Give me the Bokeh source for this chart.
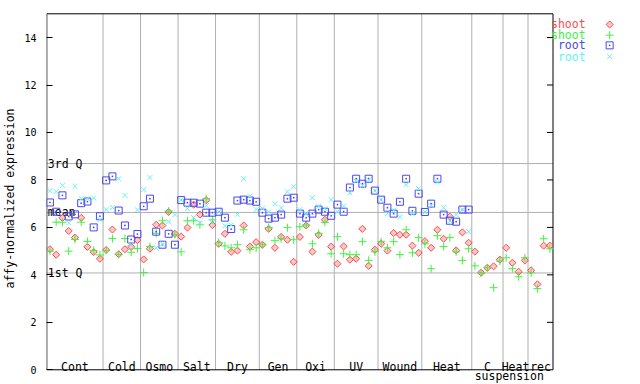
import numpy as np
from bokeh.plotting import figure
from bokeh.models import Range1d, FixedTicker
from bokeh.core.properties import value
from bokeh.embed import file_html
from bokeh.resources import INLINE

# ---- data -------------------------------------------------------------
group_labels = ["Cont", "Cold", "Osmo", "Salt", "Dry", "Gen", "Oxi", "UV",
                "Wound", "Heat", "C", "Heat", "rec"]
group_sizes = [9, 6, 6, 6, 7, 6, 6, 7, 7, 8, 5, 4, 4]
sub_label = "suspension"          # spans the last three (cell culture) groups

shoot_rep1 = [5.08, 4.85, 6.40, 5.85, 5.57, 6.40, 5.18, 4.96, 4.68,
              5.05, 5.91, 4.87, 5.08, 5.18, 5.46,
              4.65, 5.10, 6.11, 6.08, 6.65, 5.73,
              5.61, 5.99, 6.96, 6.54, 7.15, 6.10,
              5.31, 5.73, 4.97, 5.02, 6.08, 5.19, 5.38,
              5.27, 5.94, 5.14, 5.60, 5.48, 4.55,
              5.60, 6.08, 4.98, 5.68, 6.32, 5.19,
              4.47, 5.20, 4.64, 4.68, 5.94, 4.38, 5.06,
              5.31, 5.02, 5.76, 5.69, 5.69, 5.23, 4.93,
              5.42, 5.14, 5.90, 5.52, 6.45, 5.03, 5.79, 5.35,
              4.98, 4.09, 4.30, 4.36, 4.64,
              5.14, 4.51, 4.13, 4.61,
              4.19, 3.60, 5.23, 5.23]
shoot_rep2 = [5.00, 6.22, 6.22, 5.00, 5.49, 6.22, 5.41, 5.03, 4.84,
              5.03, 5.53, 4.86, 5.53, 4.95, 5.11,
              4.10, 5.19, 5.75, 6.28, 6.69, 5.70,
              4.97, 6.28, 6.28, 6.11, 7.21, 6.32,
              5.36, 5.22, 5.14, 5.27, 5.90, 5.06, 5.14,
              5.27, 5.99, 5.44, 5.52, 5.99, 5.48,
              6.03, 6.10, 5.31, 5.75, 6.21, 4.89,
              5.61, 4.89, 4.85, 4.85, 5.40, 4.61, 4.97,
              5.40, 5.14, 5.40, 4.85, 5.90, 4.93, 5.57,
              5.31, 4.26, 5.65, 5.19, 5.57, 4.97, 4.61, 5.10,
              4.38, 4.09, 4.30, 3.46, 4.58,
              4.72, 4.26, 3.92, 4.72,
              4.09, 3.42, 5.52, 5.10]
root_rep1 = [7.05, 6.66, 7.35, 6.46, 6.55, 7.02, 7.09, 6.00, 6.47,
             7.98, 8.15, 6.71, 6.08, 5.49, 5.72,
             6.89, 7.21, 5.82, 5.27, 5.73, 5.27,
             7.15, 7.04, 7.04, 7.00, 6.62, 6.62,
             6.66, 6.41, 5.93, 7.13, 7.17, 7.13, 7.08,
             6.62, 6.37, 6.41, 6.54, 7.21, 7.25,
             6.58, 6.41, 6.58, 6.75, 6.66, 6.49,
             6.96, 6.66, 7.68, 8.05, 7.84, 8.05, 7.55,
             7.17, 6.83, 6.58, 7.08, 8.05, 6.70, 7.42,
             6.65, 7.00, 8.05, 6.54, 6.28, 6.24, 6.75, 6.75]
root_rep2 = [7.55, 7.51, 7.77, 6.19, 7.73, 7.21, 7.21, 7.24, 6.33,
             6.75, 6.84, 8.05, 7.35, 5.27, 6.74,
             7.59, 8.10, 5.14, 5.30, 6.24, 6.54,
             7.15, 6.79, 6.41, 6.20, 6.92, 6.20,
             6.66, 6.07, 6.10, 6.55, 8.05, 7.31, 6.75,
             6.80, 6.65, 7.00, 6.83, 7.50, 7.72,
             6.75, 6.58, 7.25, 6.89, 6.79, 7.17,
             6.66, 6.90, 7.45, 7.95, 7.76, 8.00, 7.55,
             7.17, 6.58, 6.72, 6.45, 7.80, 6.58, 7.63,
             6.65, 6.92, 7.91, 6.83, 6.28, 6.54, 6.75, 5.82]

stat_names = ["3rd Q", "mean", "1st Q"]
stat_values = [8.69, 6.63, 4.08]
y_ticks = [0, 2, 4, 6, 8, 10, 12, 14]
y_max = 15
series_names = ["shoot", "shoot", "root", "root"]

# ---- styling / layout constants ---------------------------------------
FONT = value("DejaVu Sans Mono")
FS = "11.5px"
RED, GREEN, BLUE, CYAN = "#ff4a4a", "#44f044", "#4848f0", "#60f4f4"
GREY = "#b0b0b0"

n = len(shoot_rep1)
x_shoot = list(range(n))
x_root = list(range(len(root_rep1)))
bounds = np.cumsum([0] + group_sizes) - 0.5
centers = (bounds[:-1] + bounds[1:]) / 2
x_lo, x_hi = bounds[0], bounds[-1]

# the frame covers the plot box plus the legend area at the right and a
# strip below the box (for the "suspension" caption); the box is drawn.
p = figure(width=640, height=384, output_backend="svg", toolbar_location=None,
           x_range=Range1d(x_lo - 0.05, x_hi + 14.0),
           y_range=Range1d(-0.62, y_max + 0.055),
           x_axis_location=None,
           min_border_left=45, min_border_right=0, min_border_top=12,
           min_border_bottom=0)
p.xgrid.visible = False
p.ygrid.visible = False
p.outline_line_color = None
p.background_fill_color = "white"
p.border_fill_color = "white"

ax = p.yaxis[0]
ax.ticker = FixedTicker(ticks=y_ticks)
ax.major_tick_in = 6
ax.major_tick_out = 0
ax.minor_tick_line_color = None
ax.axis_line_color = None
ax.major_tick_line_color = "black"
ax.major_label_text_font = "DejaVu Sans Mono"
ax.major_label_text_font_size = "10px"
ax.major_label_text_color = "black"
ax.major_label_standoff = 10
ax.axis_label = "affy-normalized expression"
ax.axis_label_text_font = "DejaVu Sans Mono"
ax.axis_label_text_font_size = FS
ax.axis_label_text_font_style = "normal"
ax.axis_label_text_color = "black"
ax.axis_label_standoff = 4

# group separators and statistic lines
sep = bounds[1:-1]
p.segment(x0=sep, y0=0, x1=sep, y1=y_max, line_color=GREY, line_width=1)
p.segment(x0=x_lo, y0=stat_values, x1=x_hi, y1=stat_values,
          line_color=GREY, line_width=1)

# plot box and mirrored ticks on the right edge
p.segment(x0=[x_lo, x_hi, x_lo, x_lo], y0=[0, 0, 0, y_max],
          x1=[x_lo, x_hi, x_hi, x_hi], y1=[y_max, y_max, 0, y_max],
          line_color="black", line_width=1)
p.ray(x=x_hi, y=y_ticks[1:], length=6, length_units="screen", angle=np.pi,
      line_color="black", line_width=1)

p.text(x=x_lo, y=stat_values, text=stat_names, text_font=FONT,
       text_font_size=FS, text_baseline="alphabetic", x_offset=1,
       text_color="black")
p.text(x=centers, y=0.13, text=group_labels, text_font=FONT,
       text_font_size=FS, text_align="center",
       text_baseline="alphabetic", text_color="black")
p.text(x=[(bounds[10] + bounds[13]) / 2 - 0.5], y=[-0.27], text=[sub_label],
       text_font=FONT, text_font_size=FS, text_align="center",
       text_baseline="alphabetic", text_color="black")

# points
styles = [dict(marker="square", angle=np.pi / 4, size=5, line_color=RED,
               fill_color=RED, fill_alpha=0.3),
          dict(marker="cross", size=8, line_color=GREEN),
          dict(marker="square_dot", size=7, line_color=BLUE, fill_color=None),
          dict(marker="x", size=7, line_color=CYAN)]
p.scatter(x_shoot, shoot_rep1, line_width=1, **styles[0])
p.scatter(x_shoot, shoot_rep2, line_width=1, **styles[1])
p.scatter(x_root, root_rep1, line_width=1, **styles[2])
p.scatter(x_root, root_rep2, line_width=1, **styles[3])

# legend: coloured names followed by their markers (right of the box)
legend_y = [14.55, 14.10, 13.67, 13.20]
cols = [RED, GREEN, BLUE, CYAN]
p.text(x=[x_hi + 5.22] * 4, y=legend_y, text=series_names, text_font=FONT,
       text_font_size=FS, text_align="right", text_baseline="middle",
       text_color=cols)
for st, yy in zip(styles, legend_y):
    p.scatter([x_hi + 9.06], [yy], line_width=1, **st)

open("out.html", "w").write(file_html(p, INLINE))
